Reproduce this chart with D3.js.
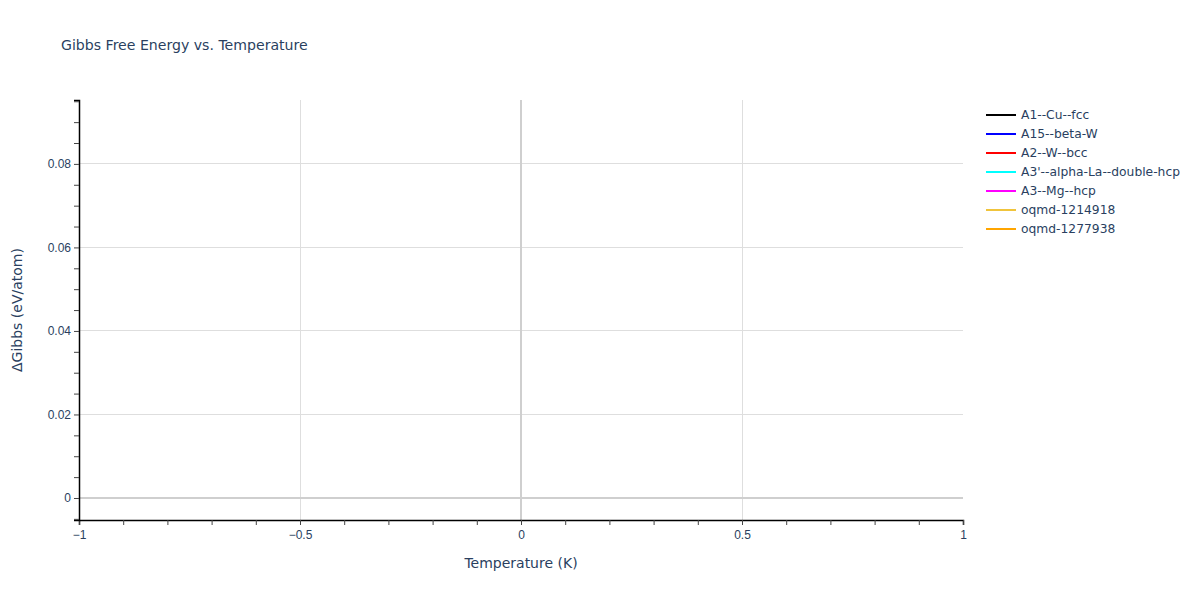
<!DOCTYPE html>
<html>
  <head>
    <title>Gibbs Free Energy vs. Temperature</title>
    <script src="https://d3js.org/d3.v7.min.js"></script>
    <style>
        body { margin: 0; background: #fff; }
        svg { font-family: "DejaVu Sans", Verdana, sans-serif; }
        .grid line { stroke: #dedede; stroke-width: 1px; shape-rendering: crispEdges; }
        .zero { stroke: #cfcfcf; stroke-width: 2px; }
        .tick-label { font-size: 12px; fill: #2a3f5f; }
        .axis-title { font-size: 14px; fill: #2a3f5f; }
        .legend text { font-size: 12.3px; fill: #2a3f5f; }
    </style>
  </head>
  <body>
    <svg width="1200" height="600"></svg>
    <script>
        // series names, colours and data (each phase only has a point at T = 0)
        const seriesNames = ["A1--Cu--fcc", "A15--beta-W", "A2--W--bcc",
            "A3'--alpha-La--double-hcp", "A3--Mg--hcp", "oqmd-1214918", "oqmd-1277938"];
        const seriesColors = ["#000000", "#0000ff", "#ff0000", "#00ffff", "#ff00ff", "#f0c43c", "#ffa500"];
        const temperatures = [0];
        const gibbsA1 = [0];
        const gibbsA15 = [0];
        const gibbsA2 = [0];
        const gibbsA3p = [0];
        const gibbsA3 = [0];
        const gibbsOqmd1 = [0];
        const gibbsOqmd2 = [0];
        const seriesValues = [gibbsA1, gibbsA15, gibbsA2, gibbsA3p, gibbsA3, gibbsOqmd1, gibbsOqmd2];

        const xTicks = [-1, -0.5, 0, 0.5, 1];
        const yTicks = [0, 0.02, 0.04, 0.06, 0.08];

        const margin = {top: 100, right: 237, bottom: 80, left: 79},
            width = 1200 - margin.left - margin.right,
            height = 600 - margin.top - margin.bottom;

        const svg = d3.select("svg");
        const g = svg.append("g")
            .attr("transform", `translate(${margin.left},${margin.top})`);

        const x = d3.scaleLinear().domain([-1, 1]).range([0, width]);
        const y = d3.scaleLinear().domain([-0.00527, 0.0953]).range([height, 0]);

        const fmt = v => (v < 0 ? "\u2212" : "") + Math.abs(v);

        // grid lines
        const grid = g.append("g").attr("class", "grid");
        grid.selectAll(".gx").data(xTicks.filter(d => d !== 0 && d !== -1 && d !== 1))
            .enter().append("line")
            .attr("x1", d => x(d)).attr("x2", d => x(d))
            .attr("y1", 0).attr("y2", height);
        grid.selectAll(".gy").data(yTicks.filter(d => d !== 0))
            .enter().append("line")
            .attr("x1", 0).attr("x2", width)
            .attr("y1", d => y(d)).attr("y2", d => y(d));

        // zero lines
        g.append("line").attr("class", "zero")
            .attr("x1", x(0)).attr("x2", x(0)).attr("y1", 0).attr("y2", height);
        g.append("line").attr("class", "zero")
            .attr("x1", 0).attr("x2", width).attr("y1", y(0)).attr("y2", y(0));

        // series lines
        const line = d3.line()
            .x((d, i) => x(temperatures[i]))
            .y(d => y(d));
        seriesValues.forEach((vals, i) => {
            g.append("path")
                .datum(vals)
                .attr("d", line)
                .style("fill", "none")
                .style("stroke", seriesColors[i])
                .style("stroke-width", 2);
        });

        // x axis with minor ticks every 0.1
        const xAxis = g.append("g")
            .attr("transform", `translate(0,${height})`)
            .call(d3.axisBottom(x).tickValues(d3.range(-10, 11).map(d => d / 10))
                .tickSize(5).tickFormat(d => xTicks.includes(Math.round(d * 10) / 10) ? fmt(Math.round(d * 10) / 10) : ""));
        xAxis.select(".domain").attr("stroke", "#000").attr("stroke-width", 1.5);
        xAxis.selectAll(".tick line").attr("stroke", "#444");
        xAxis.selectAll(".tick text").attr("class", "tick-label").attr("dy", "0.95em")
            .style("font-family", "inherit").style("font-size", "12px").attr("fill", "#2a3f5f");

        // y axis with minor ticks every 0.005
        const yMinor = d3.range(-1, 20).map(d => d * 0.005);
        const yAxis = g.append("g")
            .call(d3.axisLeft(y).tickValues(yMinor).tickSize(5)
                .tickFormat(d => {
                    const r = Math.round(d * 1000) / 1000;
                    return yTicks.includes(r) ? String(r) : "";
                }));
        yAxis.select(".domain").attr("stroke", "#000").attr("stroke-width", 1.5);
        yAxis.selectAll(".tick line").attr("stroke", "#444");
        yAxis.selectAll(".tick text").attr("class", "tick-label").attr("x", -8)
            .style("font-family", "inherit").style("font-size", "12px").attr("fill", "#2a3f5f");

        // axis titles
        svg.append("text")
            .attr("class", "axis-title")
            .attr("x", margin.left + width / 2)
            .attr("y", 568)
            .attr("text-anchor", "middle")
            .text("Temperature (K)");

        svg.append("text")
            .attr("class", "axis-title")
            .attr("transform", `translate(22,${margin.top + height / 2}) rotate(-90)`)
            .attr("text-anchor", "middle")
            .text("\u0394Gibbs (eV/atom)");

        // title
        svg.append("text")
            .attr("x", 61)
            .attr("y", 50)
            .style("font-size", "14.1px")
            .style("fill", "#2a3f5f")
            .text("Gibbs Free Energy vs. Temperature");

        // legend
        const legend = svg.append("g").attr("class", "legend")
            .attr("transform", "translate(986,115)");
        const rows = legend.selectAll("g").data(seriesNames).enter().append("g")
            .attr("transform", (d, i) => `translate(0,${i * 19})`);
        rows.append("line")
            .attr("x1", 0).attr("x2", 30).attr("y1", 0).attr("y2", 0)
            .attr("stroke", (d, i) => seriesColors[i])
            .attr("stroke-width", 2);
        rows.append("text")
            .attr("x", 35).attr("dy", "0.35em")
            .text(d => d);
    </script>
  </body>
</html>
